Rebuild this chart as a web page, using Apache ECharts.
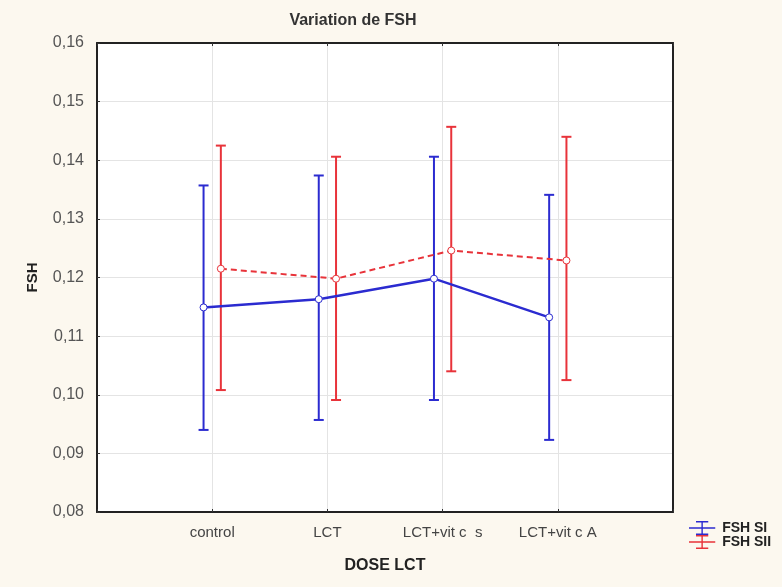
<!DOCTYPE html>
<html>
<head>
<meta charset="utf-8">
<script src="https://cdn.jsdelivr.net/npm/echarts@6/dist/echarts.min.js"></script>
<style>
  html, body { margin: 0; padding: 0; background: #fcf8ef; }
  #chart { width: 782px; height: 587px; }
</style>
</head>
<body>
<div id="chart"></div>
<script>
// donnees
var categories = ['control', 'LCT', 'LCT+vit c  s', 'LCT+vit c A'];
var siMean = [0.1149, 0.1163, 0.1198, 0.1132];
var siLow = [0.0940, 0.0957, 0.0991, 0.0923];
var siHigh = [0.1357, 0.1374, 0.1406, 0.1341];
var siiMean = [0.1215, 0.1198, 0.1246, 0.1229];
var siiLow = [0.1008, 0.0991, 0.1040, 0.1025];
var siiHigh = [0.1425, 0.1406, 0.1457, 0.1440];
var yTicks = ['0,08', '0,09', '0,10', '0,11', '0,12', '0,13', '0,14', '0,15', '0,16'];

var blue = '#2b2bd0';
var red = '#e8333a';
var shift = 0.075;

var chartDom = document.getElementById('chart');
var myChart = echarts.init(chartDom);

function pts(vals, dx) {
    return vals.map(function (v, i) { return [i + 1 + dx, v]; });
}
function bars(lo, hi, dx) {
    return lo.map(function (v, i) { return [i + 1 + dx, v, hi[i]]; });
}
function errItem(color) {
    return function (params, api) {
        var top = api.coord([api.value(0), api.value(2)]);
        var bot = api.coord([api.value(0), api.value(1)]);
        var w = 5;
        var st = { stroke: color, lineWidth: 2 };
        return {
            type: 'group',
            children: [
                { type: 'line', shape: { x1: top[0], y1: top[1], x2: bot[0], y2: bot[1] }, style: st },
                { type: 'line', shape: { x1: top[0] - w, y1: top[1], x2: top[0] + w, y2: top[1] }, style: st },
                { type: 'line', shape: { x1: bot[0] - w, y1: bot[1], x2: bot[0] + w, y2: bot[1] }, style: st }
            ]
        };
    };
}
var iconPath = 'path://M8,0H22V1.6H8Z M0,7.2H30V8.8H0Z M8,14.4H22V16H8Z M14.2,0H15.8V16H14.2Z';
var font = 'Liberation Sans';
var frame = { show: true, onZero: false, lineStyle: { color: '#222', width: 2 } };
var tick = { show: true, inside: true, length: 3, lineStyle: { color: '#333' } };

var option = {
    backgroundColor: '#fcf8ef',
    animation: false,
    color: [blue, red],
    title: {
        text: 'Variation de FSH',
        left: 348, top: 8, textAlign: 'center',
        textStyle: { fontFamily: font, fontSize: 16, fontWeight: 'bold', color: '#333' }
    },
    legend: {
        orient: 'vertical',
        left: 684, top: 516,
        itemWidth: 30, itemHeight: 14, itemGap: 0,
        data: [
            { name: 'FSH SI', icon: iconPath, itemStyle: { color: blue } },
            { name: 'FSH SII', icon: iconPath, itemStyle: { color: red } }
        ],
        textStyle: { fontFamily: font, fontSize: 14, fontWeight: 'bold', color: '#222' }
    },
    grid: {
        left: 97, right: 109, top: 43, bottom: 75,
        show: true, backgroundColor: '#ffffff', borderWidth: 0
    },
    xAxis: [{
        type: 'value', min: 0, max: 5, interval: 1,
        name: 'DOSE LCT', nameLocation: 'middle', nameGap: 46,
        nameTextStyle: { fontFamily: font, fontSize: 16, fontWeight: 'bold', color: '#222' },
        axisLine: frame, axisTick: tick,
        splitLine: { show: true, lineStyle: { color: '#e4e4e4' } },
        axisLabel: {
            margin: 13, color: '#444', fontFamily: font, fontSize: 15,
            formatter: function (v) { return categories[v - 1] || ''; }
        }
    }, {
        type: 'value', position: 'top', min: 0, max: 5, interval: 1,
        axisLine: frame, axisTick: tick, splitLine: { show: false },
        axisLabel: { show: false }
    }],
    yAxis: [{
        type: 'value', min: 0.08, max: 0.16, interval: 0.01,
        name: 'FSH', nameLocation: 'middle', nameGap: 57, nameRotate: 90,
        nameTextStyle: { fontFamily: font, fontSize: 15, fontWeight: 'bold', color: '#222' },
        axisLine: frame, axisTick: tick,
        splitLine: { show: true, lineStyle: { color: '#e4e4e4' } },
        axisLabel: {
            margin: 13, color: '#555', fontFamily: font, fontSize: 16,
            formatter: function (v) { return yTicks[Math.round((v - 0.08) * 100)]; }
        }
    }, {
        type: 'value', position: 'right', min: 0.08, max: 0.16, interval: 0.01,
        axisLine: frame, axisTick: { show: false }, splitLine: { show: false },
        axisLabel: { show: false }
    }],
    series: [
        {
            name: 'FSH SI', type: 'custom', renderItem: errItem(blue),
            data: bars(siLow, siHigh, -shift), z: 2, silent: true
        },
        {
            name: 'FSH SII', type: 'custom', renderItem: errItem(red),
            data: bars(siiLow, siiHigh, shift), z: 2, silent: true
        },
        {
            name: 'FSH SI', type: 'line', data: pts(siMean, -shift),
            symbol: 'circle', symbolSize: 7, z: 3,
            lineStyle: { color: blue, width: 2.5 },
            itemStyle: { color: '#ffffff', borderColor: blue, borderWidth: 1 }
        },
        {
            name: 'FSH SII', type: 'line', data: pts(siiMean, shift),
            symbol: 'circle', symbolSize: 7, z: 3,
            lineStyle: { color: red, width: 2, type: [6, 4] },
            itemStyle: { color: '#ffffff', borderColor: red, borderWidth: 1 }
        }
    ]
};
option && myChart.setOption(option);
</script>
</body>
</html>
